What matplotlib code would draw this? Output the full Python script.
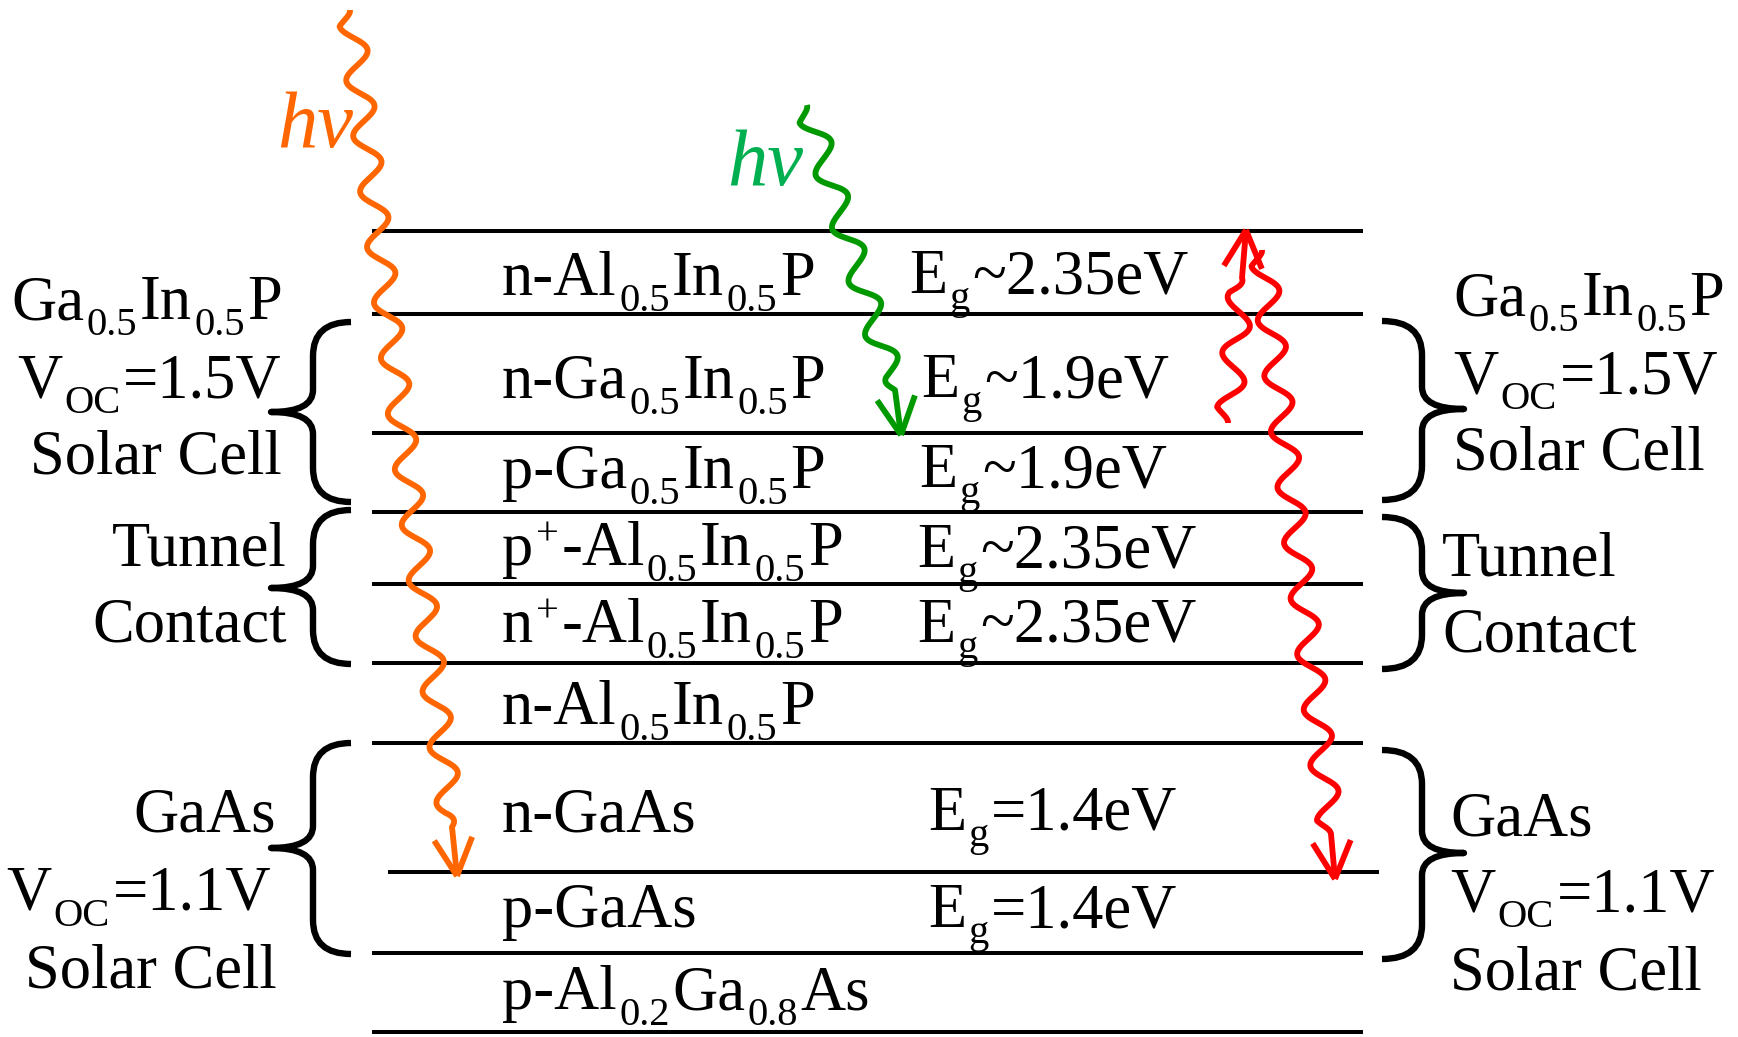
import re
import numpy as np
import matplotlib
matplotlib.use('Agg')
import matplotlib.pyplot as plt
from matplotlib.path import Path
from matplotlib.patches import PathPatch

plt.rcParams['font.family'] = ['Liberation Serif', 'DejaVu Serif']

W, H = 1738, 1037
FS = 45          # main text size (pt)
SUB = 0.65       # sub/superscript scale
PAD = 2.5        # gap between text pieces (px)

# layer boundaries (pixel rows of the reference)
boundary_y = [231, 314, 433, 512, 584, 663, 743, 872, 953, 1032]
boundary_x0 = [372, 372, 372, 372, 372, 372, 372, 388, 372, 372]
boundary_x1 = [1363, 1363, 1363, 1363, 1363, 1363, 1363, 1379, 1363, 1363]

layer_names = ['n-Al_{0.5}In_{0.5}P', 'n-Ga_{0.5}In_{0.5}P', 'p-Ga_{0.5}In_{0.5}P',
               'p^{+}-Al_{0.5}In_{0.5}P', 'n^{+}-Al_{0.5}In_{0.5}P', 'n-Al_{0.5}In_{0.5}P',
               'n-GaAs', 'p-GaAs', 'p-Al_{0.2}Ga_{0.8}As']
layer_base = [295, 398, 488, 565, 642, 724, 831, 927, 1009]

gap_text = ['E_{g}~2.35eV', 'E_{g}~1.9eV', 'E_{g}~1.9eV', 'E_{g}~2.35eV',
            'E_{g}~2.35eV', 'E_{g}=1.4eV', 'E_{g}=1.4eV']
gap_x = [909, 921, 919, 917, 917, 928, 928]
gap_base = [293, 397, 487, 567, 642, 830, 927]

group_lines = [['Ga_{0.5}In_{0.5}P', 'V_{OC}=1.5V', 'Solar Cell'],
               ['Tunnel', 'Contact'],
               ['GaAs', 'V_{OC}=1.1V', 'Solar Cell']]
left_right_x = [[282, 282, 282], [287, 287], [276, 271, 277]]
left_base = [[319, 397, 473], [565, 642], [832, 910, 987]]
right_left_x = [1453, 1442, 1450]
right_base = [[315, 393, 470], [575, 651], [835, 911, 989]]

# braces: (top, tip, bottom)
left_braces = [(322, 412, 502), (510, 588, 664), (743, 848, 954)]
right_braces = [(321, 409, 500), (517, 593, 669), (750, 853, 959)]

# photons: start, end of wave, arrow tip, colour
photon_start = [(350, 10), (807, 105), (1228, 423), (1262, 250)]
photon_wave_end = [(452, 827), (895, 390), (1242, 278), (1331, 834)]
photon_tip = [(457, 876), (901, 435), (1246, 230), (1335, 879)]
photon_color = ['#FF6600', '#009900', '#FF0000', '#FF0000']
photon_phase = [0.0, 0.0, np.pi, 0.0]

fig = plt.figure(figsize=(W / 100, H / 100), dpi=100)
ax = fig.add_axes([0, 0, 1, 1])
ax.set_xlim(0, W)
ax.set_ylim(H, 0)
ax.axis('off')
renderer = fig.canvas.get_renderer()


def rich(x, y, s, ha='left', size=FS, **kw):
    # tiny markup: _{..} subscript, ^{..} superscript
    parts = re.findall(r'_\{[^}]*\}|\^\{[^}]*\}|[^_^]+', s)
    pieces = []
    for p in parts:
        if p.startswith('_{'):
            pieces.append((p[2:-1], size * SUB, 0.26 * size * 1.389))
        elif p.startswith('^{'):
            pieces.append((p[2:-1], size * SUB, -0.32 * size * 1.389))
        else:
            pieces.append((p, size, 0))
    arts, widths = [], []
    for txt, fs, dy in pieces:
        t = ax.text(0, y + dy, txt, fontsize=fs, ha='left', va='baseline', **kw)
        arts.append(t)
        widths.append(t.get_window_extent(renderer).width + PAD)
    total = sum(widths) - PAD
    x0 = x - total if ha == 'right' else x
    for t, w in zip(arts, widths):
        t.set_x(x0)
        x0 += w


for y, x0, x1 in zip(boundary_y, boundary_x0, boundary_x1):
    ax.plot([x0, x1], [y, y], color='black', lw=2.9, solid_capstyle='butt')

for name, yb in zip(layer_names, layer_base):
    rich(502, yb, name)

for t, x, yb in zip(gap_text, gap_x, gap_base):
    rich(x, yb, t)

for lines, xs, bl, xr, br in zip(group_lines, left_right_x, left_base, right_left_x, right_base):
    for t, x, yb in zip(lines, xs, bl):
        rich(x, yb, t, ha='right')
    for t, yb in zip(lines, br):
        rich(xr, yb, t)


def brace(x_end, x_stem, x_tip, y_top, y_tip, y_bot, r=34, rt=22):
    verts = [(x_end, y_top), (x_stem, y_top), (x_stem, y_top + r),
             (x_stem, y_tip - rt), (x_stem, y_tip), (x_tip, y_tip),
             (x_stem, y_tip), (x_stem, y_tip + rt),
             (x_stem, y_bot - r), (x_stem, y_bot), (x_end, y_bot)]
    codes = [Path.MOVETO, Path.CURVE3, Path.CURVE3, Path.LINETO, Path.CURVE3, Path.CURVE3,
             Path.CURVE3, Path.CURVE3, Path.LINETO, Path.CURVE3, Path.CURVE3]
    ax.add_patch(PathPatch(Path(verts, codes), fill=False, lw=4.6, edgecolor='black',
                           capstyle='butt', joinstyle='round'))


for top, tip, bot in left_braces:
    brace(351, 313, 271, top, tip, bot)
for top, tip, bot in right_braces:
    brace(1382, 1422, 1464, top, tip, bot)


def photon(p0, p1, tip, color, phase, period=56, amp=12.5, lw=4.2):
    p0, p1, tip = np.array(p0, float), np.array(p1, float), np.array(tip, float)
    d = p1 - p0
    L = np.hypot(*d)
    u = d / L
    nrm = np.array([-u[1], u[0]])
    s = np.linspace(0, L, 600)
    env = np.clip(np.minimum(s, L - s) / 15, 0, 1)
    off = amp * np.sin(2 * np.pi * s / period + phase) * env
    pts = p0 + s[:, None] * u + off[:, None] * nrm
    pts = np.vstack([pts, tip])
    ax.plot(pts[:, 0], pts[:, 1], color=color, lw=lw, solid_joinstyle='round', solid_capstyle='butt')
    v = (tip - p1) / np.hypot(*(tip - p1))
    for a in (np.radians(27), -np.radians(27)):
        rot = np.array([[np.cos(a), -np.sin(a)], [np.sin(a), np.cos(a)]])
        arm = tip - 42 * rot @ v
        ax.plot([tip[0], arm[0]], [tip[1], arm[1]], color=color, lw=lw, solid_capstyle='butt')


for p0, p1, tip, c, ph in zip(photon_start, photon_wave_end, photon_tip, photon_color, photon_phase):
    photon(p0, p1, tip, c, ph)

ax.text(277, 147, 'hν', fontsize=58, fontstyle='italic', color='#FF6600', ha='left', va='baseline')
ax.text(727, 185, 'hν', fontsize=58, fontstyle='italic', color='#00B050', ha='left', va='baseline')

fig.savefig('out.png', dpi=100)
